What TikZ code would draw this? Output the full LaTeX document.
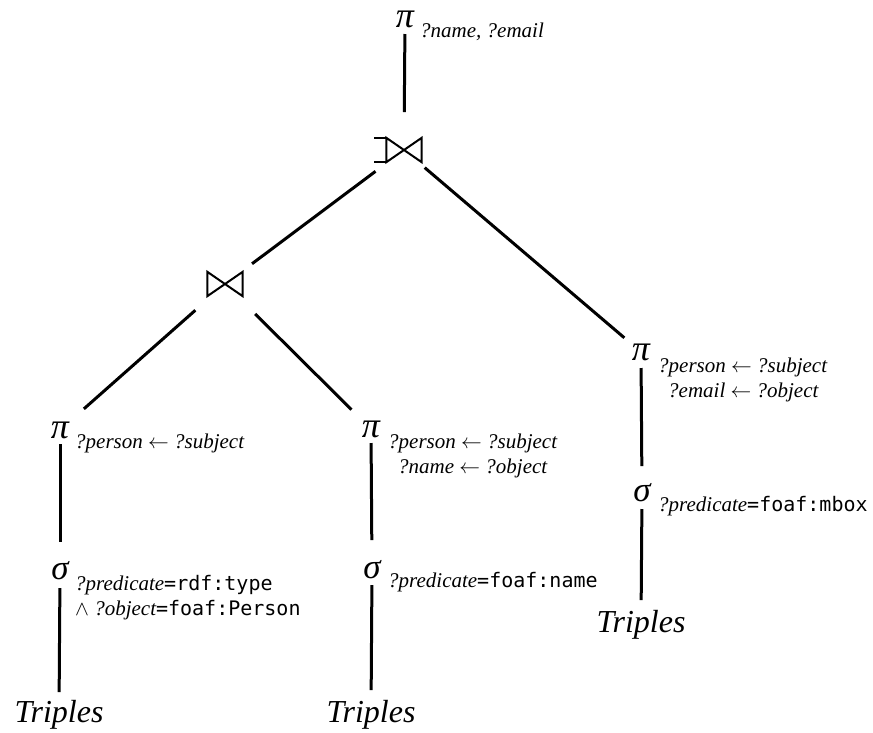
\documentclass[tikz,border=0pt]{standalone}
\usepackage{fontspec}
\setmainfont{Liberation Serif}
\newfontfamily\codefont{DejaVu Sans Mono}
\begin{document}
\begin{tikzpicture}[x=1pt,y=-1pt,
  op/.style={inner sep=0pt, font=\fontsize{36}{36}\selectfont\itshape},
  sg/.style={inner sep=0pt, font=\fontsize{35}{35}\selectfont\itshape},
  sub/.style={anchor=base west, inner sep=0pt, font=\fontsize{21}{25}\selectfont\itshape},
  tri/.style={inner sep=0pt, font=\fontsize{32}{32}\selectfont\itshape},
  edge/.style={line width=3pt},
  joinbox/.style={inner sep=0pt, minimum width=35pt, minimum height=24pt},
  joinsym/.style={line width=2pt}
]
\useasboundingbox (0,0) rectangle (873,732);
\newcommand{\cd}[1]{{\upshape\codefont\fontsize{20}{25}\selectfont #1}}

% operators
\node[op] (piTop) at (405,19) {π};
\node[sub] (subTop) at (420,37) {?name, ?email};

\node[joinbox] (oj) at (404,150) {};
\node[joinbox] (j1) at (225,284) {};

\node[op] (piL) at (60,430) {π};
\node[sub] (subL) at (75,448) {?person $\leftarrow$ ?subject};

\node[op] (piM) at (371,429) {π};
\node[sub] (subM1) at (388,448) {?person $\leftarrow$ ?subject};
\node[sub] (subM2) at (398,473) {?name $\leftarrow$ ?object};

\node[op] (piR) at (641,352) {π};
\node[sub] (subR1) at (658,372) {?person $\leftarrow$ ?subject};
\node[sub] (subR2) at (668,397) {?email $\leftarrow$ ?object};

\node[sg] (sigL) at (60,571) {σ};
\node[sub] (sgL1) at (75,590) {?predicate\cd{=rdf:type}};
\node[sub] (sgL2) at (75,615) {$\wedge$ ?object\cd{=foaf:Person}};

\node[sg] (sigM) at (372,570) {σ};
\node[sub] (sgM1) at (388,587) {?predicate\cd{=foaf:name}};

\node[sg] (sigR) at (642,493) {σ};
\node[sub] (sgR1) at (658,511) {?predicate\cd{=foaf:mbox}};

\node[tri] (tL) at (59,715) {Triples};
\node[tri] (tM) at (371,715) {Triples};
\node[tri] (tR) at (641,625) {Triples};

% join symbols
\draw[joinsym] (oj.north west) -- (oj.south east) -- (oj.north east) -- (oj.south west) -- cycle;
\draw[joinsym] (oj.north west) -- ++(-12,0);
\draw[joinsym] (oj.south west) -- ++(-12,0);
\draw[joinsym] (j1.north west) -- (j1.south east) -- (j1.north east) -- (j1.south west) -- cycle;

% connectors
\draw[edge, shorten <=15pt, shorten >=38pt] (piTop.center) -- (oj.center);
\draw[edge, shorten <=35.6pt, shorten >=33.8pt] (oj.center) -- (j1.center);
\draw[edge, shorten <=27.2pt, shorten >=21.9pt] (oj.center) -- (piR.center);
\draw[edge, shorten <=39.6pt, shorten >=31.9pt] (j1.center) -- (piL.center);
\draw[edge, shorten <=42.5pt, shorten >=27.5pt] (j1.center) -- (piM.center);

\draw[edge, shorten <=14pt, shorten >=29pt] (piL.center) -- (sigL.center);
\draw[edge, shorten <=17pt, shorten >=23pt] (sigL.center) -- (tL.center);
\draw[edge, shorten <=14pt, shorten >=30pt] (piM.center) -- (sigM.center);
\draw[edge, shorten <=15pt, shorten >=25pt] (sigM.center) -- (tM.center);
\draw[edge, shorten <=16pt, shorten >=27pt] (piR.center) -- (sigR.center);
\draw[edge, shorten <=16pt, shorten >=25pt] (sigR.center) -- (tR.center);
\end{tikzpicture}
\end{document}
